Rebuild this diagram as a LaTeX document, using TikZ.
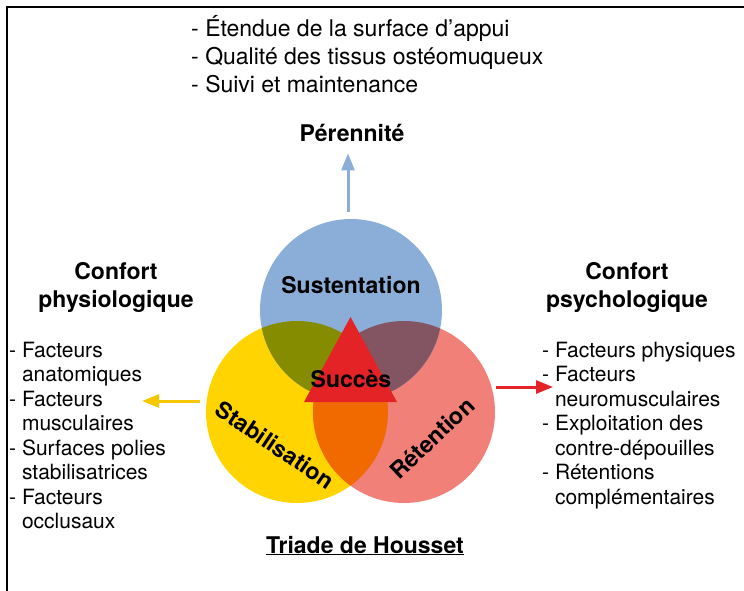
\documentclass[tikz,border=0pt]{standalone}
\usepackage{fontspec}
\setmainfont{TeX Gyre Heros}
\usetikzlibrary{arrows.meta}
\definecolor{susblue}{RGB}{139,174,216}
\definecolor{stabyellow}{RGB}{255,212,0}
\definecolor{retred}{RGB}{240,128,120}
\definecolor{overlapolive}{RGB}{134,140,0}
\definecolor{overlapmauve}{RGB}{131,85,98}
\definecolor{overlaporange}{RGB}{240,106,0}
\definecolor{succred}{RGB}{228,35,38}
\definecolor{arrowyellow}{RGB}{246,198,0}
\begin{document}
\begin{tikzpicture}[x=1pt, y=-1pt,
    disc/.style={circle, minimum size=182pt, inner sep=0pt},
    title/.style={font=\fontsize{23}{28}\bfseries\selectfont, inner sep=0pt, anchor=base},
    items/.style={font=\fontsize{21}{24.5}\selectfont, inner sep=0pt, anchor=base west},
    link/.style={line width=3pt, -{Triangle[length=17pt, width=13pt]}}]
  \useasboundingbox (0, 0) rectangle (744, 591);
  \draw[line width=1.8pt] (7, 591) -- (7, 7) -- (744, 7);
  % the three circles
  \node[disc, fill=stabyellow] (stab) at (297, 412) {};
  \node[disc, fill=retred] (ret) at (404, 412) {};
  \node[disc, fill=susblue] (sus) at (351, 310) {};
  \begin{scope}
    \clip (stab.center) circle (91);
    \fill[overlaporange] (ret.center) circle (91);
  \end{scope}
  \begin{scope}
    \clip (sus.center) circle (91);
    \fill[overlapolive] (stab.center) circle (91);
    \fill[overlapmauve] (ret.center) circle (91);
  \end{scope}
  \fill[succred] (350.5, 317) -- (304, 402) -- (397, 402) -- cycle;
  \node[title] (susL) at (351, 293) {Sustentation};
  \node[title] (succ) at (351, 387) {Succès};
  \node[title, anchor=center, rotate=-34] (stabL) at (275, 445) {Stabilisation};
  \node[title, anchor=center, rotate=43] (retL) at (432, 438) {Rétention};
  % top
  \node[title] (per) at (352, 142) {Pérennité};
  \node[items, font=\fontsize{23}{28}\selectfont] (perL) at (191, 37) {\begin{tabular}[t]{@{}l@{\ }l@{}}
    - & Étendue de la surface d’appui\\
    - & Qualité des tissus ostéomuqueux\\
    - & Suivi et maintenance
  \end{tabular}};
  % left
  \node[title] (physT) at (116, 279) {\begin{tabular}[t]{@{}c@{}}Confort\\physiologique\end{tabular}};
  \node[items] (physL) at (9, 357) {\begin{tabular}[t]{@{}l@{\ }l@{}}
    - & Facteurs\\ & anatomiques\\
    - & Facteurs\\ & musculaires\\
    - & Surfaces polies\\ & stabilisatrices\\
    - & Facteurs\\ & occlusaux
  \end{tabular}};
  % right
  \node[title] (psychT) at (627, 279) {\begin{tabular}[t]{@{}c@{}}Confort\\psychologique\end{tabular}};
  \node[items] (psychL) at (542, 357) {\begin{tabular}[t]{@{}l@{\ }l@{}}
    - & Facteurs physiques\\
    - & Facteurs\\ & neuromusculaires\\
    - & Exploitation des\\ & contre-dépouilles\\
    - & Rétentions\\ & complémentaires
  \end{tabular}};
  \node[title] (triade) at (365, 553) {\underline{Triade de Housset}};
  % arrows
  \coordinate (physA) at (142, 401);
  \coordinate (psychA) at (553, 387);
  \draw[link, susblue, shorten >=11pt] ([xshift=-3pt, yshift=7pt]sus.north) -- ([xshift=-4pt]per.south);
  \draw[link, arrowyellow] ([xshift=-6pt, yshift=11pt]stab.west) -- (physA);
  \draw[link, succred] ([xshift=1pt, yshift=25pt]ret.east) -- (psychA);
\end{tikzpicture}
\end{document}
